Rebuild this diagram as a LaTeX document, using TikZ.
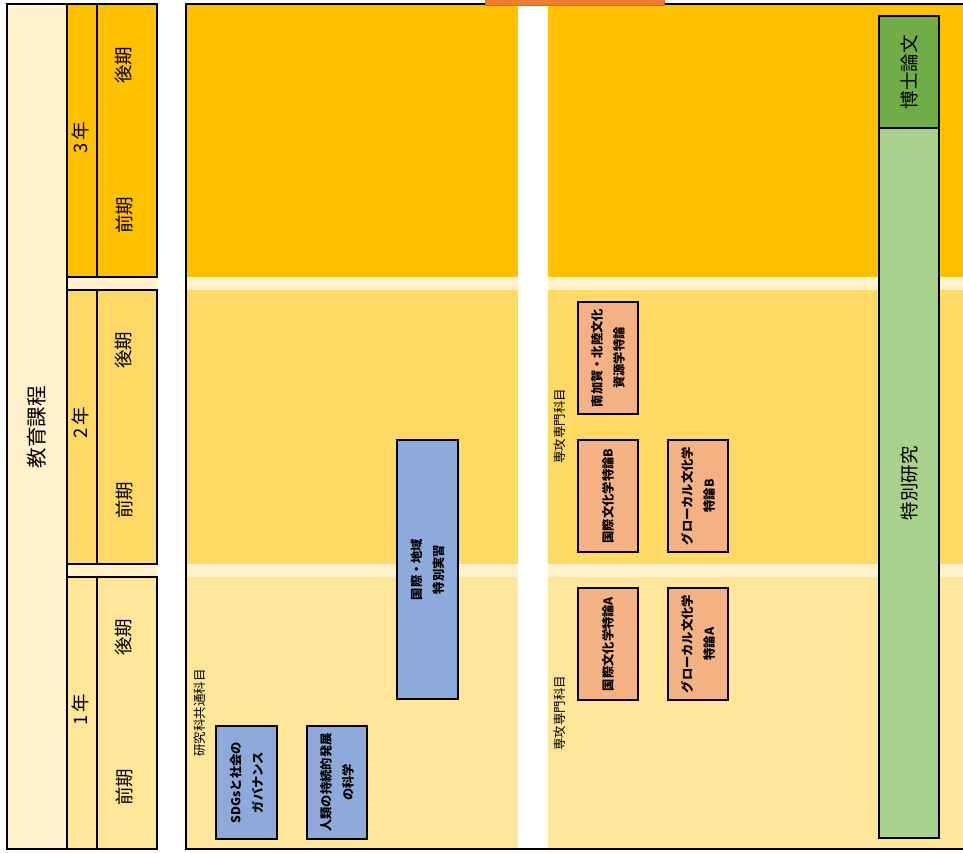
\documentclass[tikz,border=0pt]{standalone}
\usepackage{fontspec}
\setmainfont{Noto Sans CJK JP}
\definecolor{band3}{HTML}{FFC000}
\definecolor{band2}{HTML}{FFD966}
\definecolor{band1}{HTML}{FFE699}
\definecolor{creamc}{HTML}{FFF2CC}
\definecolor{blueb}{HTML}{8EAADB}
\definecolor{orangeb}{HTML}{F4B183}
\definecolor{greend}{HTML}{70AD47}
\definecolor{greenl}{HTML}{A9D18E}
\definecolor{orangetop}{HTML}{ED7D31}
\definecolor{orangeedge}{HTML}{D06A28}
\tikzset{
  cellbox/.style={draw=black, line width=1.6pt},
  subj/.style={draw=black, line width=1.5pt, rotate=90, align=center, inner sep=0pt,
    font=\bfseries\fontsize{12.3}{22}\selectfont},
  vlab/.style={rotate=90, inner sep=0pt},
  biglab/.style={vlab, font=\fontsize{18.5}{21}\selectfont},
  smalllab/.style={vlab, font=\fontsize{12.5}{14}\selectfont}
}
\begin{document}
\begin{tikzpicture}[x=1pt,y=-1pt]
\useasboundingbox (0,0) rectangle (963,852);
\clip (0,0) rectangle (963,852);
% left table
\fill[creamc] (67,4) rectangle (157,849);
\draw[cellbox, fill=creamc] (7,4) rectangle (67,849);
\node[vlab, font=\fontsize{20.5}{23}\selectfont] (kyoiku) at (37,427) {教育課程};
% year 3
\draw[cellbox, fill=band3] (67,4) rectangle (97,277);
\draw[cellbox, fill=band3] (97,4) rectangle (157,277);
\node[biglab] (y3) at (80,138) {3\,年};
\node[biglab] (y3b) at (124,65) {後期};
\node[biglab] (y3a) at (124,215) {前期};
% year 2
\draw[cellbox, fill=band2] (67,290) rectangle (97,564);
\draw[cellbox, fill=band2] (97,290) rectangle (157,564);
\node[biglab] (y2) at (80,423) {2\,年};
\node[biglab] (y2b) at (124,350) {後期};
\node[biglab] (y2a) at (124,500) {前期};
% year 1
\draw[cellbox, fill=band1] (67,577) rectangle (97,849);
\draw[cellbox, fill=band1] (97,577) rectangle (157,849);
\node[biglab] (y1) at (80,710) {1\,年};
\node[biglab] (y1b) at (124,637) {後期};
\node[biglab] (y1a) at (124,787) {前期};
% main area bands
\fill[band3] (186,4) rectangle (970,277);
\fill[creamc] (186,277) rectangle (970,290);
\fill[band2] (186,290) rectangle (970,564);
\fill[creamc] (186,564) rectangle (970,577);
\fill[band1] (186,577) rectangle (970,849);
\fill[white] (518,4) rectangle (548,849);
\draw[line width=1.8pt] (970,4) -- (186,4) -- (186,849) -- (970,849);
\draw[fill=orangetop, draw=orangeedge, line width=0.6pt] (485,-6) rectangle (664,5);
% labels
\node[smalllab] (common) at (200,713) {研究科共通科目};
\node[smalllab] (major2) at (560,426) {専攻専門科目};
\node[smalllab] (major1) at (560,713) {専攻専門科目};
% subject boxes
\node[subj, fill=blueb, minimum width=113pt, minimum height=61pt] (sdgs) at (246.5,782.5) {SDGsと社会の\\ガバナンス};
\node[subj, fill=blueb, minimum width=113pt, minimum height=60pt] (jinrui) at (337,782.5) {人類の持続的発展\\の科学};
\node[subj, fill=blueb, minimum width=259pt, minimum height=61pt] (jisshu) at (427.5,569.5) {国際・地域\\特別実習};
\node[subj, fill=orangeb, minimum width=112pt, minimum height=60pt] (minami) at (608,358) {南加賀・北陸文化\\資源学特論};
\node[subj, fill=orangeb, minimum width=112pt, minimum height=60pt] (kokB) at (608,496) {国際文化学特論B};
\node[subj, fill=orangeb, minimum width=112pt, minimum height=60pt] (gloB) at (698,496) {グローカル文化学\\特論B};
\node[subj, fill=orangeb, minimum width=112pt, minimum height=60pt] (kokA) at (608,644) {国際文化学特論A};
\node[subj, fill=orangeb, minimum width=112pt, minimum height=60pt] (gloA) at (698,644) {グローカル文化学\\特論A};
% research
\node[subj, font=\fontsize{18.5}{21}\selectfont, fill=greenl, minimum width=710pt, minimum height=60pt] (tokubetsu) at (909,483) {特別研究};
\node[subj, font=\fontsize{18.5}{21}\selectfont, fill=greend, minimum width=112pt, minimum height=60pt] (hakase) at (909,72) {博士論文};
\end{tikzpicture}
\end{document}
